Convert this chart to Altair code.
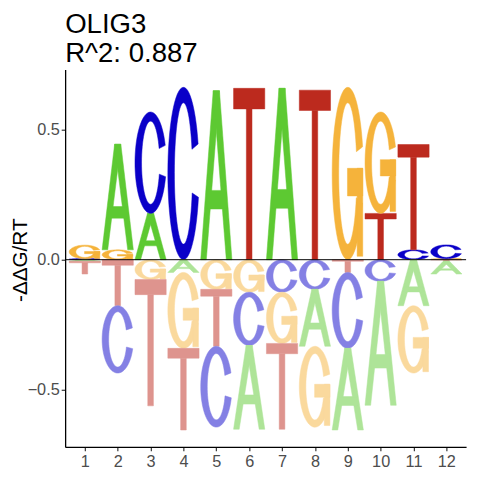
import altair as alt
import pandas as pd
import numpy as np

# ---- data ----
positions = list(range(1, 13))
letters = ["A", "C", "G", "T"]
val_A = [-0.006, 0.406, 0.178, -0.049, 0.650, -0.322, 0.659, -0.219, -0.314, -0.477, -0.177, -0.049]
val_C = [0.004, -0.259, 0.390, 0.663, -0.311, -0.205, -0.125, -0.114, -0.292, -0.083, 0.038, 0.053]
val_G = [0.052, 0.038, -0.076, -0.292, -0.114, -0.125, -0.197, -0.311, 0.663, 0.390, -0.259, 0.004]
val_T = [-0.049, -0.177, -0.486, -0.314, -0.219, 0.659, -0.330, 0.652, -0.049, 0.178, 0.405, -0.006]
y_ticks = [-0.5, 0.0, 0.5]
title_lines = ["OLIG3", "R^2: 0.887"]
y_title = "-\u0394\u0394G/RT"

# ---- style ----
colors = {"A": "#5DC932", "C": "#0A00C8", "G": "#F5B33B", "T": "#BC2A1E"}


def faded(hexcol, a=0.5):
    r, g, b = (int(hexcol[i:i + 2], 16) for i in (1, 3, 5))
    mix = lambda c: int(round(c * a + 255 * (1 - a)))
    return "#%02X%02X%02X" % (mix(r), mix(g), mix(b))


def ring(a0, a1, rxo=0.5, ryo=0.5, rxi=0.29, ryi=0.41, n=60):
    t = np.linspace(np.radians(a0), np.radians(a1), n)
    outer = [(0.5 + rxo * np.cos(a), 0.5 + ryo * np.sin(a)) for a in t]
    inner = [(0.5 + rxi * np.cos(a), 0.5 + ryi * np.sin(a)) for a in t[::-1]]
    return outer + inner


def rect(u0, u1, v0, v1):
    return [(u0, v0), (u1, v0), (u1, v1), (u0, v1)]


GLYPHS = {
    "A": [[(0, 0), (0.18, 0), (0.6, 1), (0.4, 1)],
          [(0.82, 0), (1, 0), (0.6, 1), (0.4, 1)],
          rect(0.2, 0.8, 0.3, 0.41)],
    "C": [ring(20, 344)],
    "G": [ring(18, 340), rect(0.8, 0.98, 0.02, 0.53), rect(0.49, 0.98, 0.37, 0.53)],
    "T": [rect(0, 1, 0.88, 1), rect(0.41, 0.59, 0, 0.88)],
}
COL_W = 0.95

rows = []
pid = 0


def add_letter(letter, p, y0, y1, col):
    global pid
    for piece in GLYPHS[letter]:
        pid += 1
        pts = list(piece) + [piece[0]]
        for k, (u, v) in enumerate(pts):
            rows.append({"pid": pid, "k": k,
                         "x": p - COL_W / 2 + COL_W * u,
                         "y": y0 + (y1 - y0) * v,
                         "col": col, "letter": letter})


series = {"A": val_A, "C": val_C, "G": val_G, "T": val_T}
for i, p in enumerate(positions):
    vals = {l: series[l][i] for l in letters}
    base = 0.0
    for l in sorted([l for l in letters if vals[l] > 0], key=lambda l: vals[l]):
        add_letter(l, p, base, base + vals[l], colors[l])
        base += vals[l]
    base = 0.0
    for l in sorted([l for l in letters if vals[l] < 0], key=lambda l: -vals[l]):
        add_letter(l, p, base + vals[l], base, faded(colors[l]))
        base += vals[l]

df = pd.DataFrame(rows)

W, H = 407, 383

x_enc = alt.X("x:Q", scale=alt.Scale(domain=[0.4, 12.6], nice=False, zero=False),
              axis=alt.Axis(values=positions, title=None, format="d", labelPadding=3))
y_enc = alt.Y("y:Q", scale=alt.Scale(domain=[-0.72, 0.731], nice=False, zero=False),
              axis=alt.Axis(values=y_ticks, format=".1f", title=y_title,
                            titleX=-45, titleY=193, titleAngle=270,
                            titleAlign="center", titleBaseline="middle"))

logo = alt.Chart(df).mark_line(strokeWidth=0.5, clip=True).encode(
    x=x_enc,
    y=y_enc,
    detail="pid:N",
    order="k:Q",
    color=alt.Color("col:N", scale=None),
    fill=alt.Fill("col:N", scale=None),
)

zero = alt.Chart(pd.DataFrame({"y": [0.0]})).mark_rule(color="black", strokeWidth=1).encode(
    y=alt.Y("y:Q")
)

chart = alt.layer(logo, zero).properties(
    width=W, height=H,
    title=alt.TitleParams(text=title_lines, anchor="start", frame="group",
                          font="Liberation Sans", fontSize=28, fontWeight="normal",
                          color="black", lineHeight=29, offset=2),
    autosize=alt.AutoSizeParams(type="none"),
    padding={"left": 58, "top": 59, "right": 6, "bottom": 28},
).configure_view(stroke=None).configure_axis(
    grid=False,
    domainColor="black", domainWidth=1.3,
    tickColor="#333333", tickSize=4, tickWidth=1.2,
    labelColor="#4D4D4D", labelFont="Liberation Sans", labelFontSize=16.5,
    titleFont="Liberation Sans", titleFontSize=21, titleFontWeight="normal", titleColor="black",
)

chart.save("out.html", embed_options={"renderer": "svg", "actions": False})
